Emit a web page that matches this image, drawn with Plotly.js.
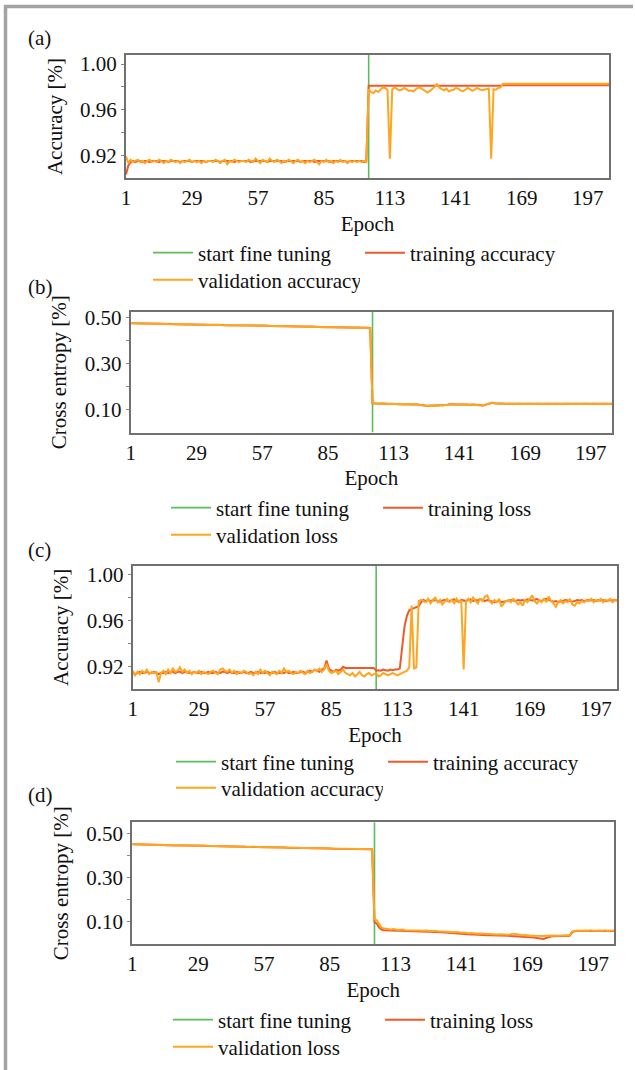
<!DOCTYPE html>
<html>
<head>
<meta charset="utf-8">
<script src="https://cdn.plot.ly/plotly-3.0.1.min.js"></script>
<style>html,body{margin:0;padding:0;background:#fff;}#chart{width:635px;height:1070px;}</style>
</head>
<body>
<div id="chart"></div>
<script>
// ---------------- data ----------------
const fineTuneEpoch = 104;
const xTickVals = [1, 29, 57, 85, 113, 141, 169, 197];
const accTickVals = [0.92, 0.94, 0.96, 0.98, 1.00];
const accTickText = ['0.92', '', '0.96', '', '1.00'];
const lossTickVals = [0.10, 0.20, 0.30, 0.40, 0.50];
const lossTickText = ['0.10', '', '0.30', '', '0.50'];
const accRangeA = [0.9, 1.008];
const lossRangeB = [0, 0.523];
const accRangeC = [0.9, 1.008];
const lossRangeD = [0, 0.553];

// (a) accuracy
const trainAccA = [
0.903,0.911,0.914,0.915,0.914,0.915,0.915,0.914,0.915,0.915,
0.914,0.915,0.915,0.915,0.914,0.915,0.915,0.915,0.914,0.915,
0.915,0.915,0.915,0.914,0.915,0.915,0.915,0.915,0.914,0.915,
0.915,0.915,0.915,0.915,0.914,0.915,0.915,0.915,0.915,0.915,
0.914,0.915,0.915,0.915,0.915,0.915,0.914,0.915,0.915,0.915,
0.915,0.915,0.915,0.914,0.915,0.915,0.915,0.915,0.915,0.915,
0.914,0.915,0.915,0.915,0.915,0.915,0.915,0.914,0.915,0.915,
0.915,0.915,0.915,0.915,0.914,0.915,0.915,0.915,0.915,0.915,
0.914,0.915,0.915,0.915,0.915,0.915,0.915,0.914,0.915,0.915,
0.915,0.915,0.915,0.915,0.914,0.915,0.915,0.915,0.915,0.915,
0.915,0.914,0.915,
0.981,0.981,0.9812,0.981,0.981,0.9808,0.981,
0.981,0.981,0.9812,0.981,0.981,0.981,0.9808,0.981,0.981,0.981,
0.9812,0.981,0.981,0.981,0.981,0.9808,0.981,0.981,0.981,0.9812,
0.981,0.981,0.981,0.981,0.9812,0.981,0.981,0.981,0.9808,0.981,
0.981,0.981,0.9812,0.981,0.981,0.981,0.981,0.9808,0.981,0.981,
0.981,0.9812,0.981,0.981,0.981,0.981,0.981,0.9808,0.981,0.981,
0.9815,0.9815,0.9815,0.9815,0.9815,0.9815,0.9815,0.9815,0.9815,0.9815,
0.9815,0.9815,0.9815,0.9815,0.9815,0.9815,0.9815,0.9815,0.9815,0.9815,
0.9815,0.9815,0.9815,0.9815,0.9815,0.9815,0.9815,0.9815,0.9815,0.9815,
0.9815,0.9815,0.9815,0.9815,0.9815,0.9815,0.9815,0.9815,0.9815,0.9815,
0.9815,0.9815,0.9815,0.9815,0.9815,0.9815
];
const valAccA = [
0.919,0.913,0.916,0.914,0.915,0.916,0.914,0.915,0.913,0.915,
0.916,0.914,0.915,0.914,0.916,0.915,0.913,0.915,0.914,0.916,
0.915,0.914,0.915,0.913,0.915,0.914,0.915,0.916,0.914,0.915,
0.914,0.915,0.913,0.915,0.914,0.915,0.915,0.914,0.916,0.915,
0.913,0.915,0.916,0.912,0.915,0.914,0.916,0.915,0.914,0.915,
0.915,0.914,0.916,0.915,0.914,0.917,0.915,0.913,0.916,0.915,
0.914,0.917,0.915,0.914,0.916,0.915,0.913,0.915,0.914,0.916,
0.915,0.913,0.915,0.916,0.914,0.915,0.913,0.915,0.914,0.915,
0.916,0.914,0.912,0.915,0.914,0.916,0.914,0.915,0.913,0.915,
0.914,0.916,0.914,0.915,0.913,0.915,0.914,0.915,0.914,0.915,
0.914,0.915,0.914,
0.978,0.9755,0.9745,0.977,0.9755,0.978,0.9795,
0.979,0.9775,0.917,0.978,0.9795,0.9785,0.977,0.9775,0.979,0.978,
0.9765,0.977,0.976,0.978,0.9795,0.979,0.9775,0.976,0.975,0.9765,
0.978,0.980,0.9825,0.9795,0.978,0.977,0.9785,0.976,0.977,0.9775,
0.979,0.9785,0.977,0.976,0.9775,0.979,0.978,0.9765,0.9775,0.979,
0.978,0.977,0.9775,0.978,0.9785,0.917,0.978,0.9775,0.979,0.9795,
0.9828,0.9828,0.9828,0.9828,0.9828,0.9828,0.9828,0.9828,0.9828,0.9828,
0.9828,0.9828,0.9828,0.9828,0.9828,0.9828,0.9828,0.9828,0.9828,0.9828,
0.9828,0.9828,0.9828,0.9828,0.9828,0.9828,0.9828,0.9828,0.9828,0.9828,
0.9828,0.9828,0.9828,0.9828,0.9828,0.9828,0.9828,0.9828,0.9828,0.9828,
0.9828,0.9828,0.9828,0.9828,0.9828,0.9828
];

// (b) loss
const trainLossB = [
0.474,0.474,0.474,0.474,0.473,0.473,0.473,0.473,0.473,0.472,
0.472,0.472,0.472,0.472,0.471,0.471,0.471,0.471,0.471,0.470,
0.470,0.470,0.470,0.470,0.470,0.469,0.469,0.469,0.469,0.469,
0.468,0.468,0.468,0.468,0.468,0.467,0.467,0.467,0.467,0.467,
0.466,0.466,0.466,0.466,0.466,0.465,0.465,0.465,0.465,0.465,
0.464,0.464,0.464,0.464,0.464,0.463,0.463,0.463,0.463,0.463,
0.462,0.462,0.462,0.462,0.462,0.461,0.461,0.461,0.461,0.461,
0.460,0.460,0.460,0.460,0.460,0.459,0.459,0.459,0.459,0.459,
0.458,0.458,0.458,0.458,0.458,0.457,0.457,0.457,0.457,0.457,
0.456,0.456,0.456,0.456,0.456,0.456,0.455,0.455,0.455,0.455,
0.455,0.455,0.454,
0.127,0.126,0.126,0.127,0.126,0.126,0.125,
0.125,0.124,0.125,0.124,0.123,0.123,0.124,0.124,0.123,0.123,
0.123,0.122,0.122,0.120,0.118,0.117,0.116,0.116,0.117,0.116,
0.116,0.117,0.118,0.118,0.118,0.121,0.123,0.122,0.121,0.121,
0.121,0.122,0.121,0.121,0.120,0.120,0.121,0.120,0.118,0.117,
0.117,0.120,0.124,0.127,0.129,0.127,0.126,0.125,0.125,0.125,
0.125,0.125,0.125,0.125,0.125,0.125,0.125,0.125,0.125,0.125,
0.125,0.125,0.125,0.125,0.125,0.125,0.125,0.125,0.125,0.125,
0.125,0.125,0.125,0.125,0.125,0.125,0.125,0.125,0.125,0.125,
0.125,0.125,0.125,0.125,0.125,0.125,0.125,0.125,0.125,0.125,
0.125,0.125,0.125,0.125,0.125,0.125
];
const valLossB = [
0.475,0.474,0.474,0.473,0.474,0.473,0.473,0.472,0.473,0.472,
0.472,0.473,0.472,0.471,0.471,0.472,0.471,0.470,0.471,0.470,
0.470,0.471,0.470,0.469,0.470,0.469,0.469,0.470,0.469,0.468,
0.468,0.469,0.468,0.467,0.468,0.467,0.467,0.468,0.467,0.466,
0.466,0.467,0.466,0.465,0.466,0.465,0.465,0.466,0.465,0.464,
0.464,0.465,0.464,0.463,0.464,0.463,0.463,0.464,0.463,0.462,
0.462,0.463,0.462,0.461,0.462,0.461,0.461,0.462,0.461,0.460,
0.460,0.461,0.460,0.459,0.460,0.459,0.459,0.460,0.459,0.458,
0.458,0.459,0.458,0.457,0.458,0.457,0.457,0.458,0.457,0.456,
0.456,0.457,0.456,0.455,0.456,0.456,0.455,0.456,0.455,0.454,
0.455,0.454,0.453,
0.128,0.127,0.125,0.126,0.127,0.125,0.126,
0.124,0.125,0.124,0.125,0.122,0.124,0.123,0.122,0.124,0.122,
0.121,0.123,0.121,0.119,0.117,0.118,0.115,0.117,0.116,0.115,
0.117,0.116,0.119,0.117,0.119,0.122,0.122,0.123,0.120,0.122,
0.120,0.123,0.120,0.122,0.119,0.121,0.120,0.119,0.117,0.118,
0.116,0.121,0.125,0.128,0.130,0.126,0.125,0.126,0.124,0.125,
0.124,0.125,0.124,0.125,0.124,0.125,0.124,0.125,0.124,0.125,
0.124,0.125,0.124,0.125,0.124,0.125,0.124,0.125,0.124,0.125,
0.124,0.125,0.124,0.125,0.124,0.125,0.124,0.125,0.124,0.125,
0.124,0.125,0.124,0.125,0.124,0.125,0.124,0.125,0.124,0.125,
0.124,0.125,0.124,0.125,0.124,0.125
];

// (c) accuracy
const trainAccC = [
0.914,0.913,0.914,0.915,0.914,0.914,0.915,0.914,0.914,0.915,
0.914,0.913,0.914,0.914,0.915,0.914,0.915,0.915,0.914,0.915,
0.915,0.914,0.915,0.915,0.914,0.914,0.915,0.914,0.914,0.915,
0.914,0.914,0.915,0.914,0.914,0.915,0.914,0.914,0.915,0.915,
0.914,0.915,0.914,0.914,0.915,0.914,0.914,0.915,0.914,0.914,
0.915,0.914,0.914,0.915,0.914,0.914,0.914,0.915,0.914,0.914,
0.915,0.914,0.914,0.914,0.914,0.915,0.914,0.914,0.915,0.914,
0.914,0.915,0.915,0.914,0.915,0.916,0.915,0.917,0.916,0.915,
0.917,0.918,0.925,0.918,0.916,0.915,0.917,0.916,0.917,0.9195,
0.9185,0.9185,0.9185,0.9185,0.9185,0.9185,0.9185,0.9185,0.9185,0.9185,
0.9185,0.9185,0.9185,
0.916,0.9165,0.916,0.917,0.9165,0.916,0.917,0.9165,0.917,0.917,
0.918,0.935,0.955,0.964,0.969,0.970,0.971,0.9715,0.9725,0.976,0.978,
0.977,0.978,0.977,0.9775,0.978,0.977,0.9765,0.9775,0.978,0.9775,
0.977,0.978,0.9785,0.977,0.9765,0.978,0.9775,0.977,0.978,0.9785,
0.977,0.978,0.9775,0.979,0.978,0.977,0.978,0.9775,0.9765,0.976,
0.9765,0.977,0.976,0.9765,0.977,0.9775,0.978,0.9775,0.977,0.978,
0.9775,0.978,0.977,0.9785,0.978,0.9775,0.978,0.979,0.9775,0.977,
0.9785,0.979,0.978,0.977,0.9765,0.977,0.976,0.9765,0.977,0.978,
0.9775,0.977,0.9765,0.977,0.978,0.9775,0.978,0.977,0.9775,0.978,
0.9775,0.978,0.977,0.978,0.9775,0.978,0.977,0.9775,0.978,0.9775,0.978,0.9775
];
const valAccC = [
0.916,0.912,0.915,0.913,0.916,0.914,0.917,0.913,0.915,0.914,
0.915,0.906,0.914,0.916,0.913,0.917,0.914,0.918,0.915,0.916,
0.919,0.915,0.917,0.914,0.916,0.913,0.915,0.914,0.916,0.913,
0.915,0.914,0.913,0.915,0.916,0.914,0.913,0.917,0.918,0.916,
0.915,0.917,0.914,0.916,0.913,0.915,0.914,0.916,0.915,0.913,
0.914,0.912,0.915,0.913,0.917,0.914,0.916,0.914,0.912,0.915,
0.914,0.913,0.916,0.914,0.918,0.915,0.916,0.914,0.913,0.915,
0.914,0.916,0.914,0.913,0.916,0.914,0.915,0.917,0.916,0.918,
0.915,0.917,0.922,0.916,0.914,0.915,0.916,0.913,0.915,0.917,
0.914,0.913,0.912,0.914,0.911,0.913,0.915,0.912,0.911,0.913,
0.914,0.912,0.913,0.914,0.911,0.912,0.914,0.913,0.912,0.913,
0.914,0.913,0.912,0.913,0.914,0.915,0.916,0.919,
0.973,0.918,0.919,0.977,0.978,0.977,
0.976,0.979,0.975,0.978,0.980,0.976,0.978,0.974,0.977,0.979,
0.976,0.978,0.975,0.979,0.976,0.978,0.917,0.977,0.979,0.976,
0.980,0.977,0.975,0.979,0.977,0.981,0.982,0.977,0.975,0.978,
0.976,0.979,0.972,0.975,0.977,0.978,0.976,0.979,0.977,0.974,
0.976,0.973,0.978,0.976,0.979,0.982,0.977,0.975,0.978,0.976,
0.979,0.976,0.981,0.977,0.975,0.972,0.976,0.978,0.975,0.977,
0.976,0.979,0.974,0.973,0.976,0.975,0.977,0.976,0.978,0.977,
0.979,0.976,0.978,0.977,0.979,0.976,0.978,0.977,0.979,0.976,0.978,0.977
];

// (d) loss
const trainLossD = [
0.453,0.453,0.452,0.452,0.452,0.452,0.451,0.451,0.451,0.451,
0.450,0.450,0.450,0.450,0.449,0.449,0.449,0.449,0.449,0.448,
0.448,0.448,0.448,0.447,0.447,0.447,0.447,0.446,0.446,0.446,
0.446,0.446,0.445,0.445,0.445,0.445,0.444,0.444,0.444,0.444,
0.443,0.443,0.443,0.443,0.443,0.442,0.442,0.442,0.442,0.441,
0.441,0.441,0.441,0.440,0.440,0.440,0.440,0.440,0.439,0.439,
0.439,0.439,0.438,0.438,0.438,0.438,0.437,0.437,0.437,0.437,
0.437,0.436,0.436,0.436,0.436,0.435,0.435,0.435,0.435,0.435,
0.434,0.434,0.434,0.434,0.434,0.433,0.433,0.433,0.433,0.433,
0.433,0.432,0.432,0.432,0.432,0.432,0.432,0.431,0.431,0.431,
0.431,0.431,0.431,
0.100,0.092,0.075,0.066,0.063,0.062,0.062,
0.061,0.061,0.060,0.060,0.060,0.059,0.059,0.059,0.059,0.058,
0.058,0.058,0.058,0.057,0.057,0.057,0.056,0.056,0.055,0.055,
0.054,0.053,0.052,0.051,0.050,0.049,0.048,0.047,0.046,0.046,
0.045,0.045,0.044,0.044,0.043,0.043,0.042,0.042,0.041,0.041,
0.041,0.040,0.040,0.040,0.039,0.039,0.039,0.038,0.038,0.037,
0.037,0.036,0.036,0.035,0.034,0.034,0.033,0.032,0.032,0.031,
0.030,0.029,0.027,0.026,0.024,0.023,0.027,0.032,0.034,0.035,
0.035,0.035,0.036,0.036,0.035,0.036,0.037,0.052,0.058,0.059,
0.059,0.058,0.059,0.058,0.059,0.058,0.059,0.059,0.058,0.059,0.058,0.059,0.058,0.059,0.058,0.059
];
const valLossD = [
0.454,0.453,0.453,0.452,0.453,0.452,0.452,0.451,0.452,0.451,
0.451,0.450,0.451,0.450,0.450,0.449,0.450,0.449,0.449,0.449,
0.448,0.449,0.448,0.448,0.447,0.448,0.447,0.447,0.446,0.447,
0.446,0.446,0.446,0.445,0.446,0.445,0.445,0.444,0.445,0.444,
0.444,0.443,0.444,0.443,0.443,0.443,0.442,0.443,0.442,0.442,
0.441,0.442,0.441,0.441,0.440,0.441,0.440,0.440,0.440,0.439,
0.440,0.439,0.439,0.438,0.439,0.438,0.438,0.437,0.438,0.437,
0.437,0.437,0.436,0.437,0.436,0.436,0.435,0.436,0.435,0.435,
0.435,0.434,0.435,0.434,0.434,0.434,0.433,0.434,0.433,0.433,
0.433,0.433,0.432,0.433,0.432,0.432,0.432,0.431,0.432,0.431,
0.431,0.432,0.431,
0.112,0.108,0.090,0.075,0.070,0.068,0.067,
0.066,0.068,0.065,0.064,0.065,0.066,0.063,0.063,0.064,0.062,
0.062,0.063,0.061,0.060,0.062,0.061,0.059,0.060,0.058,0.059,
0.058,0.057,0.058,0.056,0.055,0.056,0.054,0.053,0.054,0.052,
0.051,0.052,0.050,0.049,0.050,0.048,0.049,0.047,0.048,0.046,
0.047,0.045,0.046,0.044,0.045,0.043,0.044,0.043,0.042,0.043,
0.042,0.044,0.047,0.045,0.043,0.041,0.040,0.041,0.039,0.040,
0.038,0.037,0.036,0.035,0.034,0.036,0.038,0.039,0.037,0.038,
0.039,0.038,0.039,0.040,0.039,0.040,0.041,0.056,0.060,0.061,
0.060,0.061,0.059,0.061,0.060,0.062,0.060,0.061,0.059,0.061,0.060,0.062,0.060,0.061,0.060,0.061
];

const legendNames = {
  fine: 'start fine tuning',
  trainAcc: 'training accuracy', valAcc: 'validation accuracy',
  trainLoss: 'training loss', valLoss: 'validation loss'
};

// ---------------- styling ----------------
const FONT = '"Liberation Serif", "Times New Roman", serif';
const cGreen = '#5cbd5c', cTrain = '#f05a28', cVal = '#ffa51f';
const W = 635, H = 1070;
const px = v => v / W, py = v => 1 - v / H;

const epochs = trainAccA.map((_, i) => i + 1);

function panelTraces(n, train, val, trainName, valName, yr, leg1, leg2) {
  const xa = n === 1 ? 'x' : 'x' + n, ya = n === 1 ? 'y' : 'y' + n;
  return [
    {x: [fineTuneEpoch, fineTuneEpoch], y: yr, xaxis: xa, yaxis: ya, mode: 'lines', name: legendNames.fine,
     line: {color: cGreen, width: 1.6}, legend: leg1, hoverinfo: 'skip'},
    {x: epochs, y: train, xaxis: xa, yaxis: ya, mode: 'lines', name: trainName,
     line: {color: cTrain, width: 2}, legend: leg1, hoverinfo: 'skip'},
    {x: epochs, y: val, xaxis: xa, yaxis: ya, mode: 'lines', name: valName,
     line: {color: cVal, width: 2}, legend: leg2, hoverinfo: 'skip'}
  ];
}

const data = [].concat(
  panelTraces(1, trainAccA, valAccA, legendNames.trainAcc, legendNames.valAcc, accRangeA, 'legend', 'legend2'),
  panelTraces(2, trainLossB, valLossB, legendNames.trainLoss, legendNames.valLoss, lossRangeB, 'legend3', 'legend4'),
  panelTraces(3, trainAccC, valAccC, legendNames.trainAcc, legendNames.valAcc, accRangeC, 'legend5', 'legend6'),
  panelTraces(4, trainLossD, valLossD, legendNames.trainLoss, legendNames.valLoss, lossRangeD, 'legend7', 'legend8')
);

function xAxis(l, r, anchor) {
  return {domain: [px(l), px(r)], anchor: anchor, range: [1, 206], tickvals: xTickVals,
    ticks: '',
    showline: true, mirror: true, linecolor: '#707070', linewidth: 2,
    showgrid: false, zeroline: false, tickfont: {family: FONT, size: 21, color: '#111'},
    title: {text: 'Epoch', font: {family: FONT, size: 21, color: '#111'}, standoff: 7}};
}
function yAxis(t, b, anchor, yr, tv, tt, title) {
  return {domain: [py(b), py(t)], anchor: anchor, range: yr, tickvals: tv, ticktext: tt,
    ticks: 'outside', ticklen: 3, tickcolor: '#888', tickwidth: 1,
    showline: true, mirror: true, linecolor: '#707070', linewidth: 2,
    showgrid: false, zeroline: false, tickfont: {family: FONT, size: 21, color: '#111'},
    title: {text: title, font: {family: FONT, size: 21, color: '#111'}, standoff: 12}};
}
function legend(x, y) {
  return {x: px(x), y: py(y), xanchor: 'left', yanchor: 'middle', orientation: 'h',
    bgcolor: 'rgba(0,0,0,0)', borderwidth: 0, itemwidth: 40, entrywidth: 157, entrywidthmode: 'pixels',
    font: {family: FONT, size: 21, color: '#111'}, traceorder: 'normal'};
}

const layout = {
  width: W, height: H, margin: {l: 0, r: 0, t: 0, b: 0},
  paper_bgcolor: '#fff', plot_bgcolor: '#fff', showlegend: true,
  font: {family: FONT, size: 21, color: '#111'},
  xaxis: xAxis(126, 609, 'y'),
  yaxis: yAxis(55, 178, 'x', accRangeA, accTickVals, accTickText, 'Accuracy [%]'),
  xaxis2: xAxis(130.7, 612, 'y2'),
  yaxis2: yAxis(312, 432.5, 'x2', lossRangeB, lossTickVals, lossTickText, 'Cross entropy [%]'),
  xaxis3: xAxis(132.7, 617.3, 'y3'),
  yaxis3: yAxis(565.7, 689, 'x3', accRangeC, accTickVals, accTickText, 'Accuracy [%]'),
  xaxis4: xAxis(132.3, 614.3, 'y4'),
  yaxis4: yAxis(822.3, 944, 'x4', lossRangeD, lossTickVals, lossTickText, 'Cross entropy [%]'),
  legend: legend(148, 253), legend2: legend(148, 280),
  legend3: legend(166, 508), legend4: legend(166, 535),
  legend5: legend(171, 762), legend6: legend(171, 788),
  legend7: legend(168, 1020), legend8: legend(168, 1047),
  annotations: [['(a)', 38], ['(b)', 287], ['(c)', 550], ['(d)', 795]].map(([t, y]) => ({
    text: t, xref: 'paper', yref: 'paper', x: px(26), y: py(y), xanchor: 'left', yanchor: 'middle',
    showarrow: false, font: {family: FONT, size: 21, color: '#111'}})),
  shapes: [
    {type: 'line', xref: 'paper', yref: 'paper', x0: px(5.5), x1: px(5.5), y0: py(5), y1: py(1070), line: {color: '#a3a3a3', width: 3.5}},
    {type: 'line', xref: 'paper', yref: 'paper', x0: px(4), x1: px(633), y0: py(6.5), y1: py(6.5), line: {color: '#a3a3a3', width: 3.5}}
  ]
};

Plotly.newPlot('chart', data, layout, {staticPlot: true, displayModeBar: false});
</script>
</body>
</html>
